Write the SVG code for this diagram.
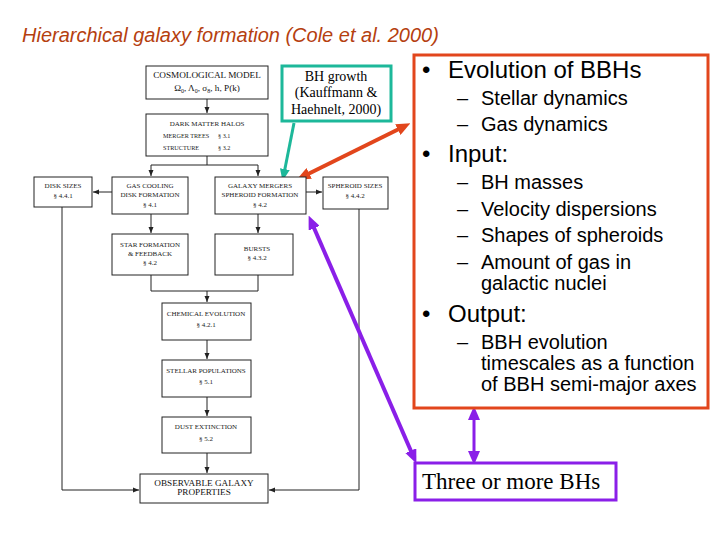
<svg xmlns="http://www.w3.org/2000/svg" width="720" height="540" viewBox="0 0 720 540">
<style>
.fc{fill:#fff;stroke:#222;stroke-width:1}
.ln{fill:none;stroke:#222;stroke-width:1}
.t7{font-family:"Liberation Serif",serif;font-size:7px;fill:#222;text-anchor:middle}
.t7s{font-family:"Liberation Serif",serif;font-size:6.2px;fill:#222;text-anchor:start}
.t9{font-family:"Liberation Serif",serif;font-size:9.2px;fill:#111;text-anchor:middle}
.big{font-family:"Liberation Sans",Arial,sans-serif;font-size:24px;fill:#000}
.sub{font-family:"Liberation Sans",Arial,sans-serif;font-size:20px;fill:#000}
.ser{font-family:"Liberation Serif",serif;fill:#000}
.serc{font-family:"Liberation Serif",serif;fill:#000;text-anchor:middle;font-size:14px}
</style>
<defs>
<marker id="fa" markerUnits="userSpaceOnUse" markerWidth="6" markerHeight="6" refX="6" refY="3" orient="auto"><path d="M0,0.5 L6,3 L0,5.5 z" fill="#222"/></marker>
<marker id="ra" markerUnits="userSpaceOnUse" markerWidth="14" markerHeight="12" refX="8" refY="6" orient="auto-start-reverse"><path d="M0,0 L14,6 L0,12 z" fill="#E2461C"/></marker>
<marker id="ga" markerUnits="userSpaceOnUse" markerWidth="12" markerHeight="10" refX="7" refY="5" orient="auto"><path d="M0,0 L12,5 L0,10 z" fill="#1DB89A"/></marker>
<marker id="pa" markerUnits="userSpaceOnUse" markerWidth="14" markerHeight="12" refX="8" refY="6" orient="auto-start-reverse"><path d="M0,0 L14,6 L0,12 z" fill="#8A1FE8"/></marker>
</defs>
<rect width="720" height="540" fill="#fff"/>
<text x="22" y="42" font-family="Liberation Sans,Arial,sans-serif" font-size="20" font-style="italic" fill="#B5400F">Hierarchical galaxy formation (Cole et al. 2000)</text>

<g id="connectors">
<path class="ln" d="M207,99 V113" marker-end="url(#fa)"/>
<path class="ln" d="M207,156 V165 M151,165 H258"/>
<path class="ln" d="M151,165 V176" marker-end="url(#fa)"/>
<path class="ln" d="M258,165 V176" marker-end="url(#fa)"/>
<path class="ln" d="M112,192 H93" marker-end="url(#fa)"/>
<path class="ln" d="M306,192 H322" marker-end="url(#fa)"/>
<path class="ln" d="M151,214 V233" marker-end="url(#fa)"/>
<path class="ln" d="M258,214 V233" marker-end="url(#fa)"/>
<path class="ln" d="M151,275 V291 H258 V275"/>
<path class="ln" d="M207,291 V302" marker-end="url(#fa)"/>
<path class="ln" d="M207,340 V359" marker-end="url(#fa)"/>
<path class="ln" d="M207,397 V416" marker-end="url(#fa)"/>
<path class="ln" d="M207,453 V473" marker-end="url(#fa)"/>
<path class="ln" d="M62,207 V490 H139" marker-end="url(#fa)"/>
<path class="ln" d="M359,209 V490 H269" marker-end="url(#fa)"/>
<line x1="294" y1="123" x2="283.5" y2="176" stroke="#1DB89A" stroke-width="3" marker-end="url(#ga)"/>
<line x1="302" y1="177" x2="405" y2="126" stroke="#E2461C" stroke-width="4" marker-start="url(#ra)" marker-end="url(#ra)"/>
<line x1="311" y1="221" x2="414" y2="458" stroke="#8A1FE8" stroke-width="4" marker-start="url(#pa)" marker-end="url(#pa)"/>
<line x1="474" y1="412" x2="474" y2="459" stroke="#8A1FE8" stroke-width="3" marker-start="url(#pa)" marker-end="url(#pa)"/>
</g>

<g id="cosmo">
<rect class="fc" x="146" y="66" width="122" height="33" stroke-width="2"/>
<text class="t9" x="207" y="78">COSMOLOGICAL MODEL</text>
<text class="t9" x="207" y="91">Ω<tspan font-size="6" dy="2">0</tspan><tspan dy="-2">, Λ</tspan><tspan font-size="6" dy="2">0</tspan><tspan dy="-2">, σ</tspan><tspan font-size="6" dy="2">8</tspan><tspan dy="-2">, h, P(k)</tspan></text>
</g>
<g id="halos">
<rect class="fc" x="146" y="114" width="122" height="42"/>
<text class="t7" x="207" y="126">DARK MATTER HALOS</text>
<text class="t7s" x="163" y="138">MERGER TREES</text>
<text class="t7s" x="218" y="138">§ 3.1</text>
<text class="t7s" x="163" y="150">STRUCTURE</text>
<text class="t7s" x="218" y="150">§ 3.2</text>
</g>
<g id="disksizes">
<rect class="fc" x="34" y="177" width="58" height="30"/>
<text class="t7" x="63" y="188">DISK SIZES</text>
<text class="t7" x="63" y="198">§ 4.4.1</text>
</g>
<g id="gascooling">
<rect class="fc" x="112" y="177" width="76" height="37"/>
<text class="t7" x="150" y="188">GAS COOLING</text>
<text class="t7" x="150" y="197">DISK FORMATION</text>
<text class="t7" x="150" y="207">§ 4.1</text>
</g>
<g id="mergers">
<rect class="fc" x="215" y="177" width="91" height="37"/>
<text class="t7" x="260" y="188">GALAXY MERGERS</text>
<text class="t7" x="260" y="197">SPHEROID FORMATION</text>
<text class="t7" x="260" y="207">§ 4.2</text>
</g>
<g id="spheroidsizes">
<rect class="fc" x="323" y="177" width="65" height="32"/>
<text class="t7" x="355" y="188">SPHEROID SIZES</text>
<text class="t7" x="355" y="198">§ 4.4.2</text>
</g>
<g id="starformation">
<rect class="fc" x="112" y="234" width="76" height="41"/>
<text class="t7" x="150" y="247">STAR FORMATION</text>
<text class="t7" x="150" y="256">&amp; FEEDBACK</text>
<text class="t7" x="150" y="265">§ 4.2</text>
</g>
<g id="bursts">
<rect class="fc" x="215" y="234" width="78" height="41"/>
<text class="t7" x="257" y="251">BURSTS</text>
<text class="t7" x="257" y="260">§ 4.3.2</text>
</g>
<g id="chemical">
<rect class="fc" x="162" y="303" width="89" height="37"/>
<text class="t7" x="206" y="316">CHEMICAL EVOLUTION</text>
<text class="t7" x="206" y="327">§ 4.2.1</text>
</g>
<g id="stellar">
<rect class="fc" x="162" y="360" width="89" height="37"/>
<text class="t7" x="206" y="373">STELLAR POPULATIONS</text>
<text class="t7" x="206" y="384">§ 5.1</text>
</g>
<g id="dust">
<rect class="fc" x="162" y="417" width="89" height="36"/>
<text class="t7" x="206" y="429">DUST EXTINCTION</text>
<text class="t7" x="206" y="441">§ 5.2</text>
</g>
<g id="observable">
<rect class="fc" x="140" y="474" width="128" height="29" stroke-width="2.5"/>
<text class="t9" x="204" y="486">OBSERVABLE GALAXY</text>
<text class="t9" x="204" y="495">PROPERTIES</text>
</g>

<g id="bhgrowth">
<rect x="282" y="66" width="109" height="55" fill="#fff" stroke="#1DB89A" stroke-width="3"/>
<text class="serc" x="336" y="81">BH growth</text>
<text class="serc" x="336" y="97">(Kauffmann &amp;</text>
<text class="serc" x="336" y="114">Haehnelt, 2000)</text>
</g>

<g id="bbh">
<rect x="414" y="55" width="294" height="353" fill="#fff" stroke="#E2461C" stroke-width="3"/>
<text class="big" x="422" y="78">•</text><text class="big" x="448" y="78">Evolution of BBHs</text>
<text class="sub" x="457" y="105">–</text><text class="sub" x="481" y="105">Stellar dynamics</text>
<text class="sub" x="457" y="131">–</text><text class="sub" x="481" y="131">Gas dynamics</text>
<text class="big" x="422" y="162">•</text><text class="big" x="448" y="162">Input:</text>
<text class="sub" x="457" y="189">–</text><text class="sub" x="481" y="189">BH masses</text>
<text class="sub" x="457" y="216">–</text><text class="sub" x="481" y="216">Velocity dispersions</text>
<text class="sub" x="457" y="242">–</text><text class="sub" x="481" y="242">Shapes of spheroids</text>
<text class="sub" x="457" y="269">–</text><text class="sub" x="481" y="269">Amount of gas in</text>
<text class="sub" x="481" y="290">galactic nuclei</text>
<text class="big" x="422" y="322">•</text><text class="big" x="448" y="322">Output:</text>
<text class="sub" x="457" y="349">–</text><text class="sub" x="481" y="349">BBH evolution</text>
<text class="sub" x="481" y="370">timescales as a function</text>
<text class="sub" x="481" y="391">of BBH semi-major axes</text>
</g>

<g id="threebh">
<rect x="415" y="463" width="201" height="37" fill="#fff" stroke="#8A1FE8" stroke-width="3"/>
<text class="ser" x="422" y="489" font-size="23">Three or more BHs</text>
</g>
</svg>
